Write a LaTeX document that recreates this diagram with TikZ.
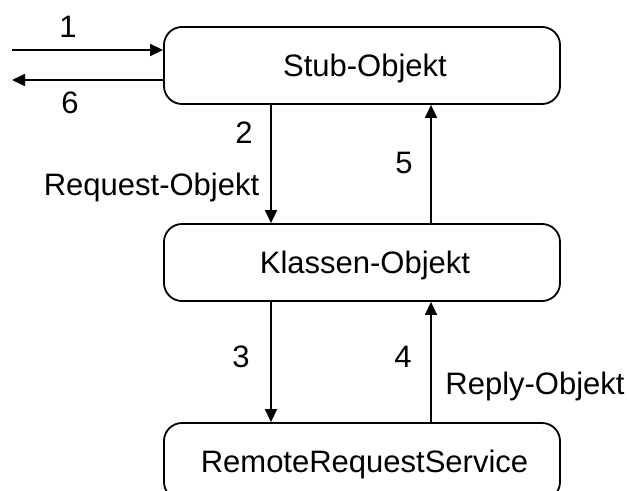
\documentclass[tikz,border=0pt]{standalone}
\usepackage{fontspec}
\setmainfont{Liberation Sans}
\usetikzlibrary{arrows.meta}
\begin{document}
\begin{tikzpicture}[x=1pt,y=-1pt,
  font=\fontsize{31}{37}\selectfont,
  objbox/.style={draw,line width=1.8pt,rounded corners=18pt,minimum width=396pt,minimum height=77pt,text height=22pt,text depth=0pt,inner sep=0pt},
  conn/.style={line width=1.5pt,-{Triangle[length=13pt,width=12pt]}},
  lbl/.style={anchor=base,inner sep=0pt}]
\clip (0,0) rectangle (629,490);
\node[objbox] (stub) at (362,65.5) {\hspace*{6pt}Stub-Objekt};
\node[objbox] (klassen) at (362,262.5) {\hspace*{6pt}Klassen-Objekt};
\node[objbox] (remote) at (362,461.5) {\hspace*{5pt}RemoteRequestService};
\coordinate (in1) at (12,50);
\coordinate (out6) at (12,80);
\coordinate (lx) at (271,0);
\coordinate (rx) at (431,0);
\draw[conn] (in1) -- (in1 -| stub.west);
\draw[conn] (out6 -| stub.west) -- (out6);
\draw[conn] (stub.south -| lx) -- (klassen.north -| lx);
\draw[conn] (klassen.north -| rx) -- (stub.south -| rx);
\draw[conn] (klassen.south -| lx) -- (remote.north -| lx);
\draw[conn] (remote.north -| rx) -- (klassen.south -| rx);
\node[lbl] (l1) at (68,37) {1};
\node[lbl] (l6) at (70,113) {6};
\node[lbl] (l2) at (244,143) {2};
\node[lbl] (lreq) at (151.5,195) {Request-Objekt};
\node[lbl] (l5) at (404,173) {5};
\node[lbl] (l3) at (241,367) {3};
\node[lbl] (l4) at (403,367) {4};
\node[lbl] (lrep) at (535,394) {Reply-Objekt};
\end{tikzpicture}
\end{document}
